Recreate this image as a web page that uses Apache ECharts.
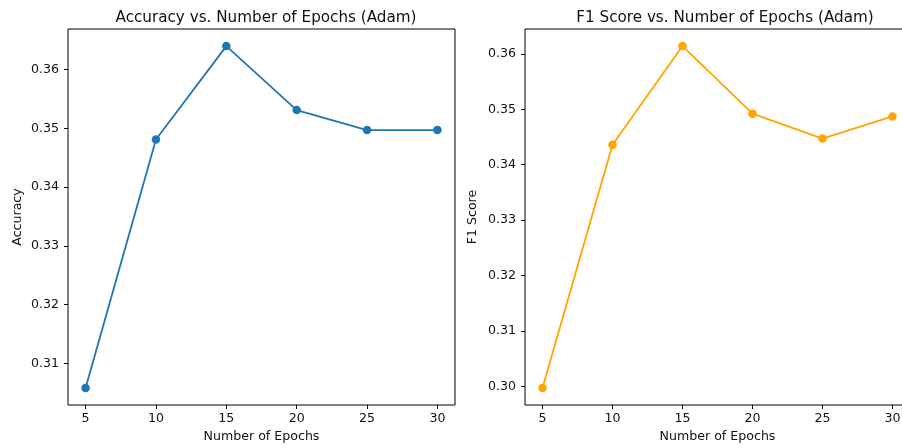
<!DOCTYPE html>
<html>
<head>
<meta charset="utf-8">
<script src="https://cdn.jsdelivr.net/npm/echarts@6/dist/echarts.min.js"></script>
<style>
  html, body { margin: 0; padding: 0; background: #fff; }
  #chart { width: 902px; height: 448px; }
</style>
</head>
<body>
<div id="chart"></div>
<script>
// Training results for the Adam optimizer at different epoch counts
const epochs = [5, 10, 15, 20, 25, 30];
const accuracy = [0.3058, 0.3481, 0.3640, 0.3531, 0.3497, 0.3497];
const f1Score = [0.2997, 0.3436, 0.3614, 0.3492, 0.3447, 0.3487];

const xTicks = [5, 10, 15, 20, 25, 30];
const accTicks = [0.31, 0.32, 0.33, 0.34, 0.35, 0.36];
const f1Ticks = [0.30, 0.31, 0.32, 0.33, 0.34, 0.35, 0.36];

const FONT = 'DejaVu Sans';
const TEXT = '#111';
const LABEL_SIZE = 12.6;
const TITLE_SIZE = 15.2;

// Pad an extent by 5% on each side, like the usual plotting default
function padded(values) {
  const lo = Math.min(...values), hi = Math.max(...values);
  const m = (hi - lo) * 0.05;
  return [lo - m, hi + m];
}

const xExt = padded(epochs);
const accExt = padded(accuracy);
const f1Ext = padded(f1Score);

function xAxis(gridIndex) {
  return {
    type: 'value', gridIndex,
    min: xExt[0], max: xExt[1],
    name: 'Number of Epochs', nameLocation: 'middle', nameGap: 25,
    nameTextStyle: { fontFamily: FONT, fontSize: LABEL_SIZE, color: TEXT },
    axisLine: { show: false },
    splitLine: { show: false },
    axisTick: { show: true, inside: false, length: 4, lineStyle: { color: '#000', width: 1 }, customValues: xTicks },
    axisLabel: { show: true, margin: 7, fontFamily: FONT, fontSize: LABEL_SIZE, color: TEXT, customValues: xTicks,
                 formatter: v => String(v) }
  };
}

function yAxis(gridIndex, ext, ticks, name, gap) {
  return {
    type: 'value', gridIndex,
    min: ext[0], max: ext[1],
    name, nameLocation: 'middle', nameGap: gap,
    nameTextStyle: { fontFamily: FONT, fontSize: LABEL_SIZE, color: TEXT },
    axisLine: { show: false },
    splitLine: { show: false },
    axisTick: { show: true, inside: false, length: 4, lineStyle: { color: '#000', width: 1 }, customValues: ticks },
    axisLabel: { show: true, margin: 9, fontFamily: FONT, fontSize: LABEL_SIZE, color: TEXT, customValues: ticks,
                 formatter: v => v.toFixed(2) }
  };
}

function series(idx, values, color) {
  return {
    type: 'line', xAxisIndex: idx, yAxisIndex: idx,
    data: epochs.map((e, i) => [e, values[i]]),
    symbol: 'circle', symbolSize: 8.5, showSymbol: true,
    lineStyle: { color, width: 1.8 },
    itemStyle: { color, borderWidth: 0 },
    animation: false, silent: true
  };
}

const chart = echarts.init(document.getElementById('chart'), null, { renderer: 'canvas' });
chart.setOption({
  backgroundColor: '#fff',
  animation: false,
  title: [
    { text: 'Accuracy vs. Number of Epochs (Adam)', left: 261, top: 6, textAlign: 'center',
      textStyle: { fontFamily: FONT, fontSize: TITLE_SIZE, fontWeight: 'normal', color: TEXT } },
    { text: 'F1 Score vs. Number of Epochs (Adam)', left: 720, top: 6, textAlign: 'center',
      textStyle: { fontFamily: FONT, fontSize: TITLE_SIZE, fontWeight: 'normal', color: TEXT } }
  ],
  grid: [
    { left: 68, top: 29, width: 387, height: 376, outerBoundsMode: 'none',
      show: true, borderColor: '#000', borderWidth: 1, backgroundColor: 'transparent' },
    { left: 525, top: 29, width: 385, height: 376, outerBoundsMode: 'none',
      show: true, borderColor: '#000', borderWidth: 1, backgroundColor: 'transparent' }
  ],
  xAxis: [xAxis(0), xAxis(1)],
  yAxis: [
    yAxis(0, accExt, accTicks, 'Accuracy', 44),
    yAxis(1, f1Ext, f1Ticks, 'F1 Score', 46)
  ],
  series: [
    series(0, accuracy, '#1f77b4'),
    series(1, f1Score, '#ffa500')
  ]
});
</script>
</body>
</html>
